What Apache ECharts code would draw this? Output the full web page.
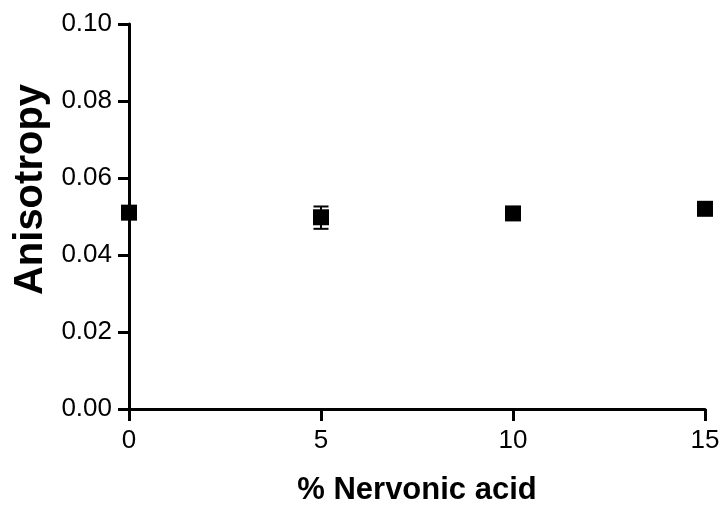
<!DOCTYPE html>
<html>
<head>
<meta charset="utf-8">
<script src="https://cdn.jsdelivr.net/npm/echarts@6/dist/echarts.min.js"></script>
<style>
  html, body { margin: 0; padding: 0; background: #fff; }
  #chart { width: 725px; height: 506px; }
</style>
</head>
<body>
<div id="chart"></div>
<script>
// data
const nervonic = [0, 5, 10, 15];
const anisotropy = [0.0510, 0.0498, 0.0508, 0.0520];
const errLow = [0.0510, 0.0468, 0.0508, 0.0520];
const errHigh = [0.0510, 0.0526, 0.0508, 0.0520];
const xTicks = [0, 5, 10, 15];
const yTicks = [0.00, 0.02, 0.04, 0.06, 0.08, 0.10];

const chart = echarts.init(document.getElementById('chart'));

const font = 'Liberation Sans, Arial, sans-serif';

const option = {
  animation: false,
  grid: { left: 129, right: 20, top: 24, bottom: 97, outerBoundsMode: 'none', containLabel: false },
  xAxis: {
    type: 'value',
    min: 0, max: 15, interval: 5,
    name: '% Nervonic acid',
    nameLocation: 'middle',
    nameGap: 66,
    nameTextStyle: { fontFamily: font, fontSize: 31, fontWeight: 'bold', color: '#000' },
    axisLine: { lineStyle: { color: '#000', width: 3 } },
    axisTick: { show: true, length: 12, lineStyle: { color: '#000', width: 3 } },
    axisLabel: { fontFamily: font, fontSize: 26, color: '#000', margin: 19,
      formatter: v => xTicks.includes(v) ? String(v) : '' },
    splitLine: { show: false }
  },
  yAxis: {
    type: 'value',
    min: 0, max: 0.1, interval: 0.02,
    name: 'Anisotropy',
    nameLocation: 'middle',
    nameGap: 78,
    nameTextStyle: { fontFamily: font, fontSize: 40, fontWeight: 'bold', color: '#000',
      padding: [0, 0, 0, 54] },
    axisLine: { show: true, lineStyle: { color: '#000', width: 3 } },
    axisTick: { show: true, length: 11, lineStyle: { color: '#000', width: 3 } },
    axisLabel: { fontFamily: font, fontSize: 26, color: '#000', margin: 17,
      formatter: v => {
        const t = yTicks.find(k => Math.abs(k - v) < 1e-9);
        return t === undefined ? '' : t.toFixed(2);
      } },
    splitLine: { show: false }
  },
  series: [
    {
      type: 'custom',
      clip: false,
      z: 3,
      data: nervonic.map((x, i) => [x, errLow[i], errHigh[i]]),
      renderItem: (params, api) => {
        const lo = api.coord([api.value(0), api.value(1)]);
        const hi = api.coord([api.value(0), api.value(2)]);
        const half = 7.5;
        const style = { stroke: '#000', lineWidth: 2 };
        return {
          type: 'group',
          children: [
            { type: 'line', shape: { x1: lo[0], y1: lo[1], x2: hi[0], y2: hi[1] }, style },
            { type: 'line', shape: { x1: lo[0] - half, y1: lo[1], x2: lo[0] + half, y2: lo[1] }, style },
            { type: 'line', shape: { x1: hi[0] - half, y1: hi[1], x2: hi[0] + half, y2: hi[1] }, style }
          ]
        };
      }
    },
    {
      type: 'scatter',
      z: 4,
      clip: false,
      symbol: 'rect',
      symbolSize: 16,
      itemStyle: { color: '#000', opacity: 1 },
      data: nervonic.map((x, i) => [x, anisotropy[i]])
    }
  ]
};

chart.setOption(option);
</script>
</body>
</html>
